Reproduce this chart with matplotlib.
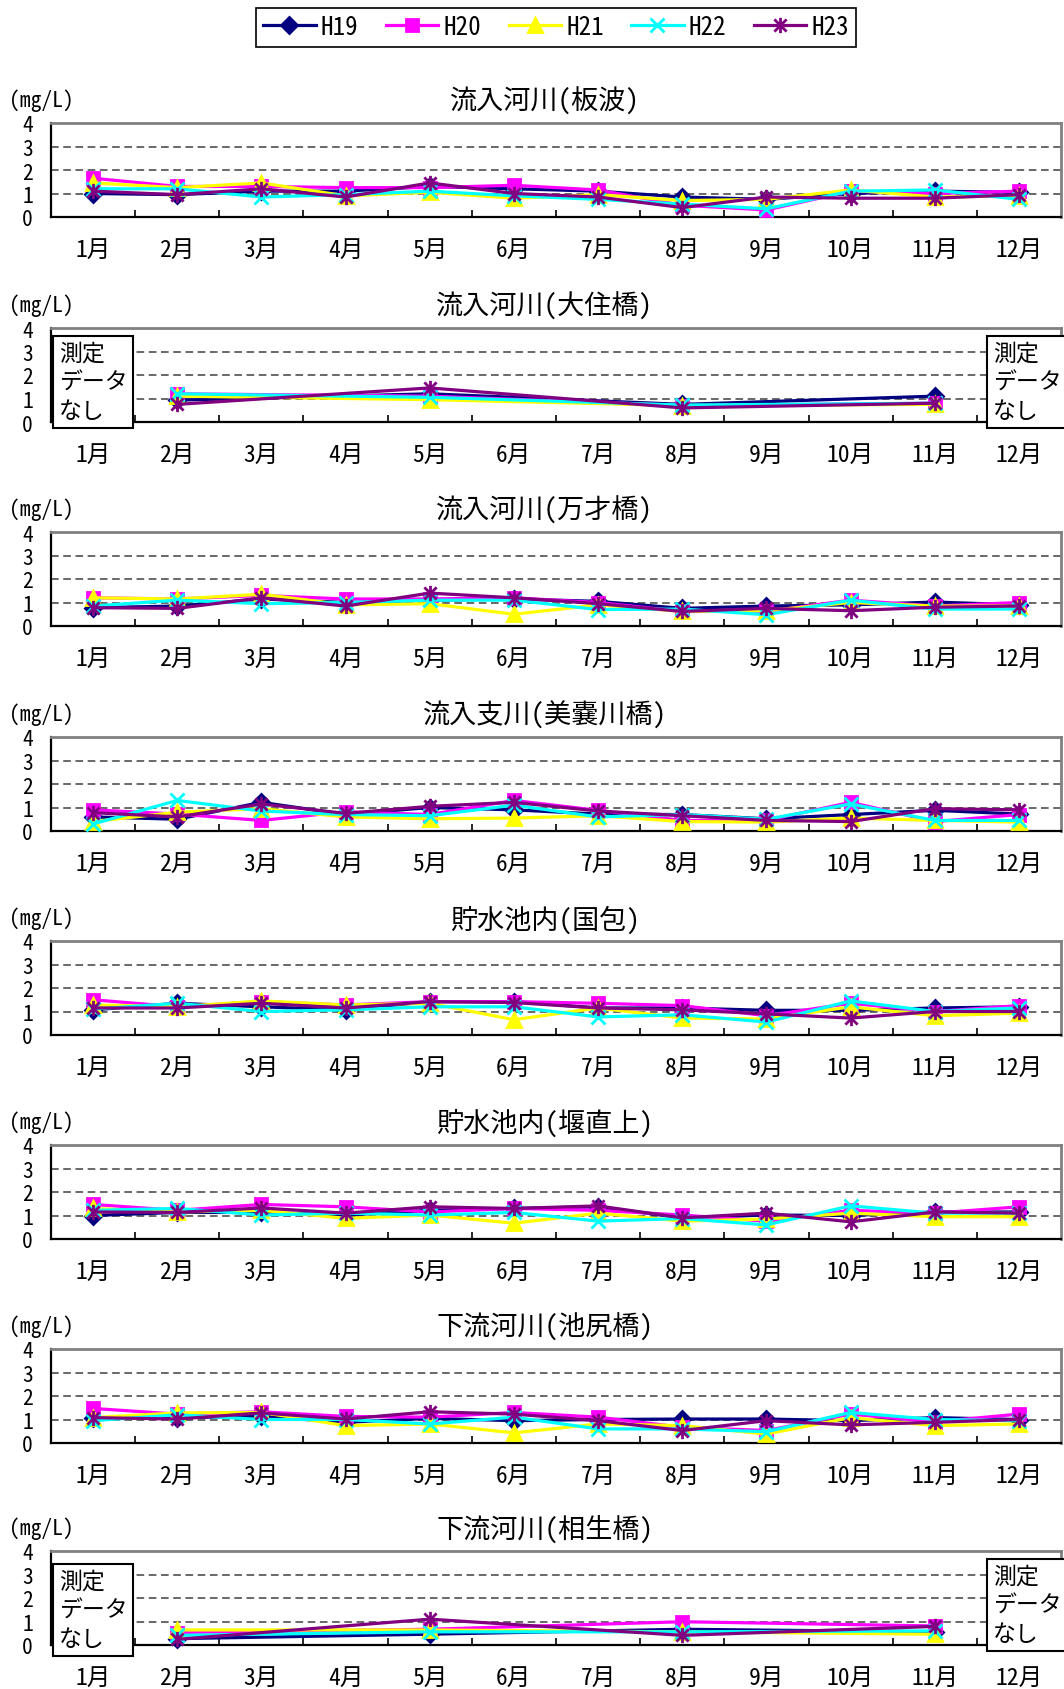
import numpy as np
import matplotlib
matplotlib.use('Agg')
import matplotlib.pyplot as plt
from matplotlib import font_manager
from matplotlib.path import Path
from matplotlib.lines import Line2D


def pick_font(names):
    for n in names:
        try:
            font_manager.findfont(font_manager.FontProperties(family=n), fallback_to_default=False)
            return n
        except ValueError:
            pass
    return 'DejaVu Sans'


JP = pick_font(['Noto Sans Mono CJK JP', 'Noto Sans CJK JP'])
plt.rcParams['font.family'] = [JP, 'DejaVu Sans']

# --- data (mg/L), rows = H19..H23, None = no measurement ---
months = ['1月', '2月', '3月', '4月', '5月', '6月', '7月', '8月', '9月', '10月', '11月', '12月']
years = ['H19', 'H20', 'H21', 'H22', 'H23']
titles = ['流入河川(板波)', '流入河川(大住橋)', '流入河川(万才橋)', '流入支川(美嚢川橋)',
          '貯水池内(国包)', '貯水池内(堰直上)', '下流河川(池尻橋)', '下流河川(相生橋)']

itanami = [
    [1.0, 0.95, 1.1, 1.1, 1.3, 1.2, 1.1, 0.85, 0.75, 1.0, 1.1, 1.05],
    [1.65, 1.3, 1.3, 1.25, 1.25, 1.35, 1.15, 0.5, 0.3, 1.1, 1.0, 1.1],
    [1.45, 1.25, 1.45, 0.9, 1.05, 0.8, 0.95, 0.7, 0.75, 1.15, 0.85, 0.9],
    [1.2, 1.2, 0.85, 0.95, 1.1, 0.9, 0.75, 0.55, 0.35, 1.1, 1.15, 0.75],
    [1.1, 0.95, 1.2, 0.85, 1.45, 1.0, 0.85, 0.4, 0.85, 0.8, 0.8, 0.95],
]
osumi = [
    [None, 0.93, None, None, 1.2, None, None, 0.75, None, None, 1.1, None],
    [None, 1.2, None, None, 1.1, None, None, 0.7, None, None, 0.8, None],
    [None, 1.1, None, None, 0.95, None, None, 0.7, None, None, 0.75, None],
    [None, 1.2, None, None, 1.05, None, None, 0.72, None, None, 0.8, None],
    [None, 0.75, None, None, 1.45, None, None, 0.6, None, None, 0.8, None],
]
banzai = [
    [0.78, 0.85, 1.15, 1.0, 1.1, 1.15, 1.05, 0.75, 0.85, 0.9, 1.02, 0.9],
    [1.2, 1.15, 1.3, 1.15, 1.15, 1.2, 1.0, 0.62, 0.62, 1.1, 0.85, 1.0],
    [1.2, 1.15, 1.35, 0.9, 0.95, 0.5, 0.9, 0.62, 0.65, 1.0, 0.85, 0.85],
    [0.85, 1.1, 0.95, 1.0, 1.1, 1.1, 0.7, 0.72, 0.48, 1.1, 0.72, 0.72],
    [0.78, 0.75, 1.2, 0.85, 1.4, 1.2, 0.95, 0.62, 0.75, 0.65, 0.8, 0.85],
]
minogawa = [
    [0.6, 0.5, 1.22, 0.7, 1.0, 0.9, 0.72, 0.7, 0.52, 0.7, 0.88, 0.72],
    [0.9, 0.72, 0.45, 0.82, 0.7, 1.3, 0.88, 0.45, 0.45, 1.22, 0.4, 0.7],
    [0.4, 0.8, 0.95, 0.6, 0.52, 0.55, 0.65, 0.4, 0.38, 0.55, 0.45, 0.38],
    [0.3, 1.3, 0.85, 0.7, 0.65, 1.1, 0.6, 0.7, 0.5, 1.15, 0.45, 0.45],
    [0.78, 0.6, 1.15, 0.75, 1.05, 1.22, 0.85, 0.65, 0.45, 0.4, 0.95, 0.9],
]
kunikane = [
    [1.07, 1.35, 1.2, 1.07, 1.42, 1.42, 1.15, 1.15, 1.05, 1.05, 1.15, 1.2],
    [1.5, 1.2, 1.42, 1.28, 1.42, 1.42, 1.35, 1.25, 0.82, 1.35, 1.0, 1.25],
    [1.28, 1.2, 1.45, 1.28, 1.35, 0.65, 1.15, 0.72, 0.68, 1.2, 0.82, 0.93],
    [1.1, 1.35, 1.0, 1.07, 1.2, 1.2, 0.77, 0.86, 0.55, 1.45, 1.0, 1.15],
    [1.15, 1.15, 1.35, 1.15, 1.42, 1.38, 1.15, 1.07, 0.9, 0.72, 1.0, 1.0],
]
sekijou = [
    [1.0, 1.13, 1.13, 1.02, 1.22, 1.3, 1.37, 0.9, 1.02, 1.0, 1.15, 1.15],
    [1.47, 1.22, 1.47, 1.37, 1.15, 1.3, 1.22, 1.02, 0.76, 1.22, 1.1, 1.37],
    [1.3, 1.15, 1.22, 0.88, 1.02, 0.67, 1.1, 0.76, 0.85, 1.1, 0.95, 0.95],
    [1.22, 1.3, 1.02, 1.1, 1.02, 1.13, 0.76, 0.87, 0.6, 1.41, 1.1, 1.1],
    [1.15, 1.13, 1.32, 1.1, 1.37, 1.3, 1.41, 0.9, 1.1, 0.73, 1.15, 1.1],
]
ikejiri = [
    [1.08, 1.08, 1.13, 0.88, 1.05, 0.95, 1.0, 1.02, 1.02, 0.95, 1.08, 1.0],
    [1.47, 1.23, 1.33, 1.13, 1.1, 1.3, 1.1, 0.67, 0.53, 1.23, 0.9, 1.23],
    [1.08, 1.28, 1.3, 0.74, 0.81, 0.43, 0.81, 0.74, 0.38, 1.08, 0.74, 0.81],
    [0.95, 1.2, 1.0, 1.0, 0.81, 1.1, 0.6, 0.6, 0.48, 1.3, 1.0, 0.95],
    [1.08, 1.02, 1.28, 1.02, 1.33, 1.23, 0.95, 0.53, 0.95, 0.77, 0.88, 1.0],
]
aioi = [
    [None, 0.27, None, None, 0.46, None, None, 0.67, None, None, 0.56, None],
    [None, 0.53, None, None, 0.67, None, None, 0.99, None, None, 0.81, None],
    [None, 0.64, None, None, 0.64, None, None, 0.56, None, None, 0.46, None],
    [None, 0.41, None, None, 0.56, None, None, 0.56, None, None, 0.6, None],
    [None, 0.24, None, None, 1.1, None, None, 0.41, None, None, 0.79, None],
]
panels = [itanami, osumi, banzai, minogawa, kunikane, sekijou, ikejiri, aioi]
no_data = [False, True, False, False, False, False, False, True]

# --- styles ---
colors = ['#000080', '#FF00FF', '#FFFF00', '#00FFFF', '#800080']
star = Path([(0, -1), (0, 1), (-0.8, -0.8), (0.8, 0.8), (-0.8, 0.8), (0.8, -0.8)],
            [Path.MOVETO, Path.LINETO, Path.MOVETO, Path.LINETO, Path.MOVETO, Path.LINETO])
markers = ['D', 's', '^', 'x', star]
msizes = [8, 8.5, 10, 10, 11]

W, H = 1064, 1690
fig = plt.figure(figsize=(W / 100, H / 100), dpi=100)
tops = [124, 329, 533, 738, 942, 1146, 1350, 1552]
box_tops = {1: (337, 337), 7: (1565, 1560)}
ax_h = 94
x = np.arange(12)

for i, (data, top) in enumerate(zip(panels, tops)):
    ax = fig.add_axes([51 / W, 1 - (top + ax_h) / H, 1010 / W, ax_h / H])
    for yv in [1, 2, 3]:
        ax.axhline(yv, color='#404040', lw=1.1, dashes=(5, 3), zorder=1)
    for vals, c, m, ms in zip(data, colors, markers, msizes):
        v = np.array(vals, dtype=float)
        ok = ~np.isnan(v)
        ax.plot(x[ok], v[ok], color=c, lw=2.3, marker=m, ms=ms, mfc=c, mec=c,
                mew=2, clip_on=False, zorder=3)
    ax.set_xlim(-0.5, 11.5)
    ax.set_ylim(0, 4)
    ax.set_xticks(x, months)
    ax.set_xticks(np.arange(0.5, 11.5, 1), minor=True)
    ax.tick_params(axis='x', which='major', length=0, pad=15, labelsize=17)
    ax.tick_params(axis='x', which='minor', direction='in', length=5, width=1.2, color='black')
    ax.set_yticks([0, 1, 2, 3, 4])
    ax.tick_params(axis='y', length=0, pad=13, labelsize=15.5)
    for s in ['left', 'bottom']:
        ax.spines[s].set_color('black')
        ax.spines[s].set_linewidth(1.6)
    for s in ['top', 'right']:
        ax.spines[s].set_color('#808080')
        ax.spines[s].set_linewidth(2)

    fig.text(545 / W, 1 - (top - 22) / H, titles[i], ha='center', va='center', fontsize=19.5)
    fig.text(9 / W, 1 - (top - 23) / H, '(mg/L)', ha='left', va='center', fontsize=15.5)

    if no_data[i]:
        lt, rt = box_tops[i]
        for bx, by in [(59, lt + 6), (993, rt + 6)]:
            fig.text(bx / W, 1 - by / H, '測定\nデータ\nなし', ha='left', va='top',
                     fontsize=16.5, linespacing=1.3,
                     bbox=dict(boxstyle='square,pad=0.25', fc='white', ec='black', lw=1.5))

handles = [Line2D([], [], color=c, lw=2.3, marker=m, ms=ms, mfc=c, mec=c, mew=2)
           for c, m, ms in zip(colors, markers, msizes)]
leg = fig.legend(handles, years, loc='center', bbox_to_anchor=(556 / W, 1 - 28 / H), ncol=5,
                 frameon=True, fancybox=False, edgecolor='black', framealpha=1,
                 handlelength=2.1, handletextpad=0.2, columnspacing=1.1, borderpad=0.3,
                 fontsize=18)
leg.get_frame().set_linewidth(1.2)

fig.savefig('out.png', dpi=100)
